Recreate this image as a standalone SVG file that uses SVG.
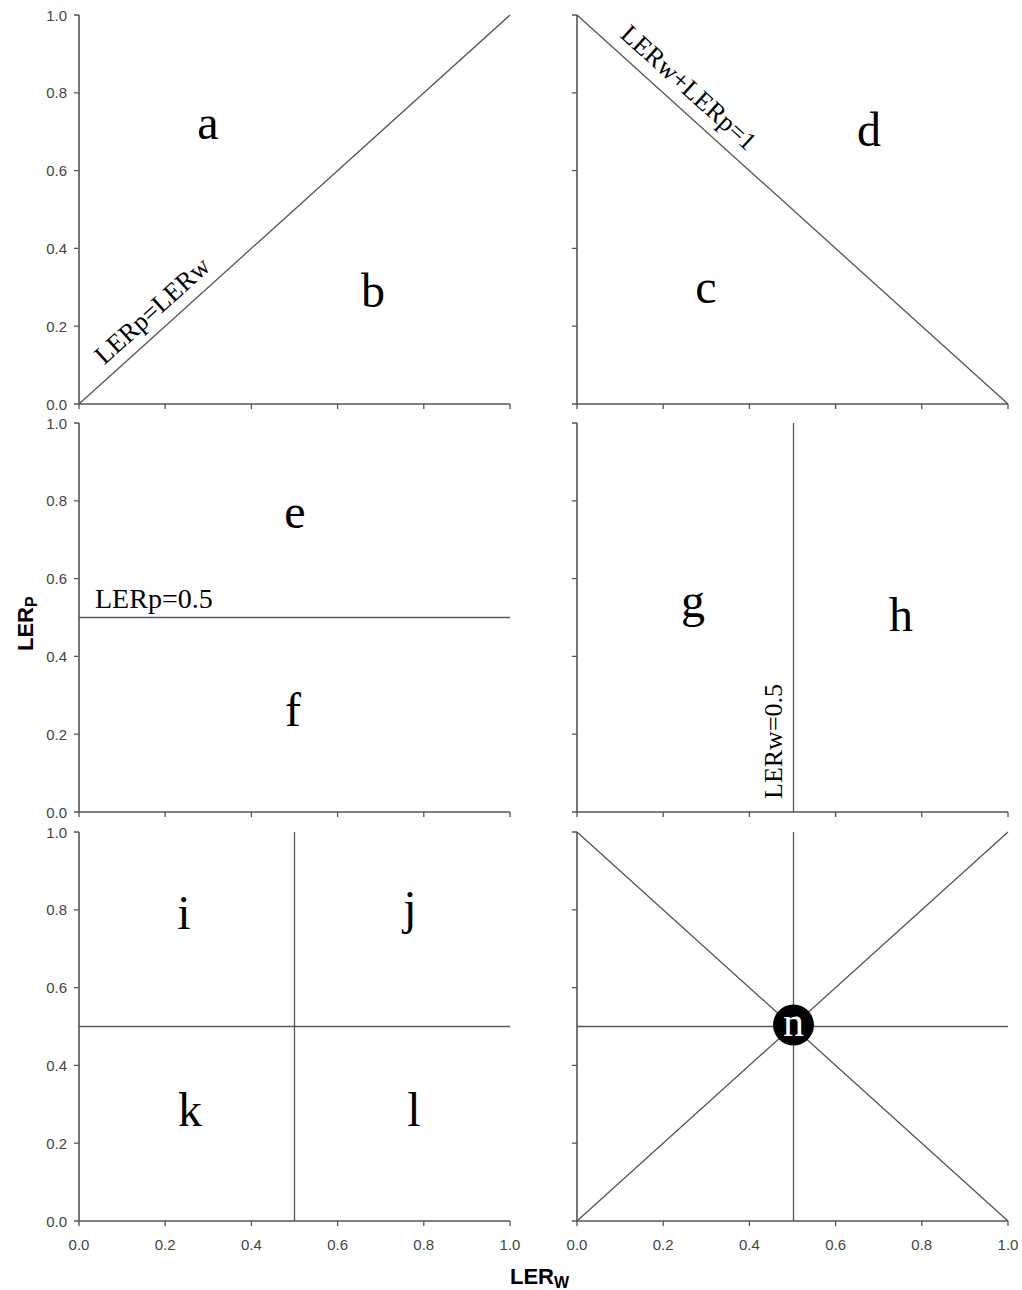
<svg xmlns="http://www.w3.org/2000/svg" width="1022" height="1290" viewBox="0 0 1022 1290">
<style>
.ax{stroke:#555;stroke-width:1.6;fill:none}
.tk{stroke:#555;stroke-width:1.3;fill:none}
.ln{stroke:#555;stroke-width:1.3;fill:none}
.tl{font-family:"Liberation Sans",Arial,sans-serif;font-size:15px;fill:#444}
.yl{text-anchor:end}
.xl{text-anchor:middle}
.big{font-family:"Liberation Serif","Times New Roman",serif;font-size:48px;fill:#000;text-anchor:middle}
.lab{font-family:"Liberation Serif","Times New Roman",serif;font-size:26px;fill:#000}
.axt{font-family:"Liberation Sans",Arial,sans-serif;font-weight:bold;font-size:22px;fill:#000}
</style>
<defs>
<g id="yticks">
<path class="tk" d="M74,0H79M74,77.8H79M74,155.6H79M74,233.4H79M74,311.2H79M74,389H79"/>
</g>
<g id="xticksL">
<path class="tk" d="M79,0V5M165.2,0V5M251.4,0V5M337.6,0V5M423.8,0V5M510,0V5"/>
</g>
<g id="xticksR">
<path class="tk" d="M577,0V5M663.2,0V5M749.4,0V5M835.6,0V5M921.8,0V5M1008,0V5"/>
</g>
</defs>

<g id="axes">
<path class="ax" d="M79,15V404H510"/>
<use href="#yticks" x="0" y="15"/>
<use href="#xticksL" x="0" y="404"/>
<path class="ax" d="M577,15V404H1008"/>
<use href="#yticks" x="498" y="15"/>
<use href="#xticksR" x="0" y="404"/>
<path class="ax" d="M79,423V812H510"/>
<use href="#yticks" x="0" y="423"/>
<use href="#xticksL" x="0" y="812"/>
<path class="ax" d="M577,423V812H1008"/>
<use href="#yticks" x="498" y="423"/>
<use href="#xticksR" x="0" y="812"/>
<path class="ax" d="M79,832V1221H510"/>
<use href="#yticks" x="0" y="832"/>
<use href="#xticksL" x="0" y="1221"/>
<path class="ax" d="M577,832V1221H1008"/>
<use href="#yticks" x="498" y="832"/>
<use href="#xticksR" x="0" y="1221"/>
</g>

<g id="tick-labels" class="tl">
<text class="yl" x="67" y="20.5">1.0</text>
<text class="yl" x="67" y="98.3">0.8</text>
<text class="yl" x="67" y="176.1">0.6</text>
<text class="yl" x="67" y="253.9">0.4</text>
<text class="yl" x="67" y="331.7">0.2</text>
<text class="yl" x="67" y="409.5">0.0</text>
<text class="yl" x="67" y="428.5">1.0</text>
<text class="yl" x="67" y="506.3">0.8</text>
<text class="yl" x="67" y="584.1">0.6</text>
<text class="yl" x="67" y="661.9">0.4</text>
<text class="yl" x="67" y="739.7">0.2</text>
<text class="yl" x="67" y="817.5">0.0</text>
<text class="yl" x="67" y="837.5">1.0</text>
<text class="yl" x="67" y="915.3">0.8</text>
<text class="yl" x="67" y="993.1">0.6</text>
<text class="yl" x="67" y="1070.9">0.4</text>
<text class="yl" x="67" y="1148.7">0.2</text>
<text class="yl" x="67" y="1226.5">0.0</text>
<text class="xl" x="79" y="1250">0.0</text>
<text class="xl" x="165.2" y="1250">0.2</text>
<text class="xl" x="251.4" y="1250">0.4</text>
<text class="xl" x="337.6" y="1250">0.6</text>
<text class="xl" x="423.8" y="1250">0.8</text>
<text class="xl" x="510" y="1250">1.0</text>
<text class="xl" x="577" y="1250">0.0</text>
<text class="xl" x="663.2" y="1250">0.2</text>
<text class="xl" x="749.4" y="1250">0.4</text>
<text class="xl" x="835.6" y="1250">0.6</text>
<text class="xl" x="921.8" y="1250">0.8</text>
<text class="xl" x="1008" y="1250">1.0</text>
</g>

<g id="axis-titles" class="axt">
<text x="510" y="1284">LER<tspan font-size="16px" dy="4">W</tspan></text>
<text transform="translate(33,651) rotate(-90)">LER<tspan font-size="16px" dy="4">P</tspan></text>
</g>

<g id="connectors">
<path class="ln" d="M79,404L510,15"/>
<path class="ln" d="M577,15L1008,404"/>
<path class="ln" d="M79,617.5H510"/>
<path class="ln" d="M793.5,423V812"/>
<path class="ln" d="M294.5,832V1221M79,1026.5H510"/>
<path class="ln" d="M793.5,832V1221M577,1026.5H1008M577,1221L1008,832M577,832L1008,1221"/>
</g>

<g id="line-labels" class="lab">
<text text-anchor="middle" transform="translate(158,317) rotate(-42.1)">LERp=LERw</text>
<text text-anchor="middle" transform="translate(683,94) rotate(42.1)">LERw+LERp=1</text>
<text x="95" y="608" font-size="28px">LERp=0.5</text>
<text transform="translate(782,799) rotate(-90)">LERw=0.5</text>
</g>

<g id="node-a"><text class="big" x="208" y="139">a</text></g>
<g id="node-b"><text class="big" x="373" y="307">b</text></g>
<g id="node-c"><text class="big" x="706" y="303">c</text></g>
<g id="node-d"><text class="big" x="869" y="146">d</text></g>
<g id="node-e"><text class="big" x="295" y="528">e</text></g>
<g id="node-f"><text class="big" x="293" y="726">f</text></g>
<g id="node-g"><text class="big" x="693" y="617">g</text></g>
<g id="node-h"><text class="big" x="901" y="631">h</text></g>
<g id="node-i"><text class="big" x="184" y="929">i</text></g>
<g id="node-j"><text class="big" x="410" y="924">j</text></g>
<g id="node-k"><text class="big" x="190" y="1126">k</text></g>
<g id="node-l"><text class="big" x="414" y="1126">l</text></g>
<g id="node-n">
<circle cx="793.5" cy="1025" r="20.5" fill="#000"/>
<text x="793.5" y="1036" font-family="'Liberation Serif','Times New Roman',serif" font-size="42px" fill="#fff" text-anchor="middle">n</text>
</g>
</svg>
